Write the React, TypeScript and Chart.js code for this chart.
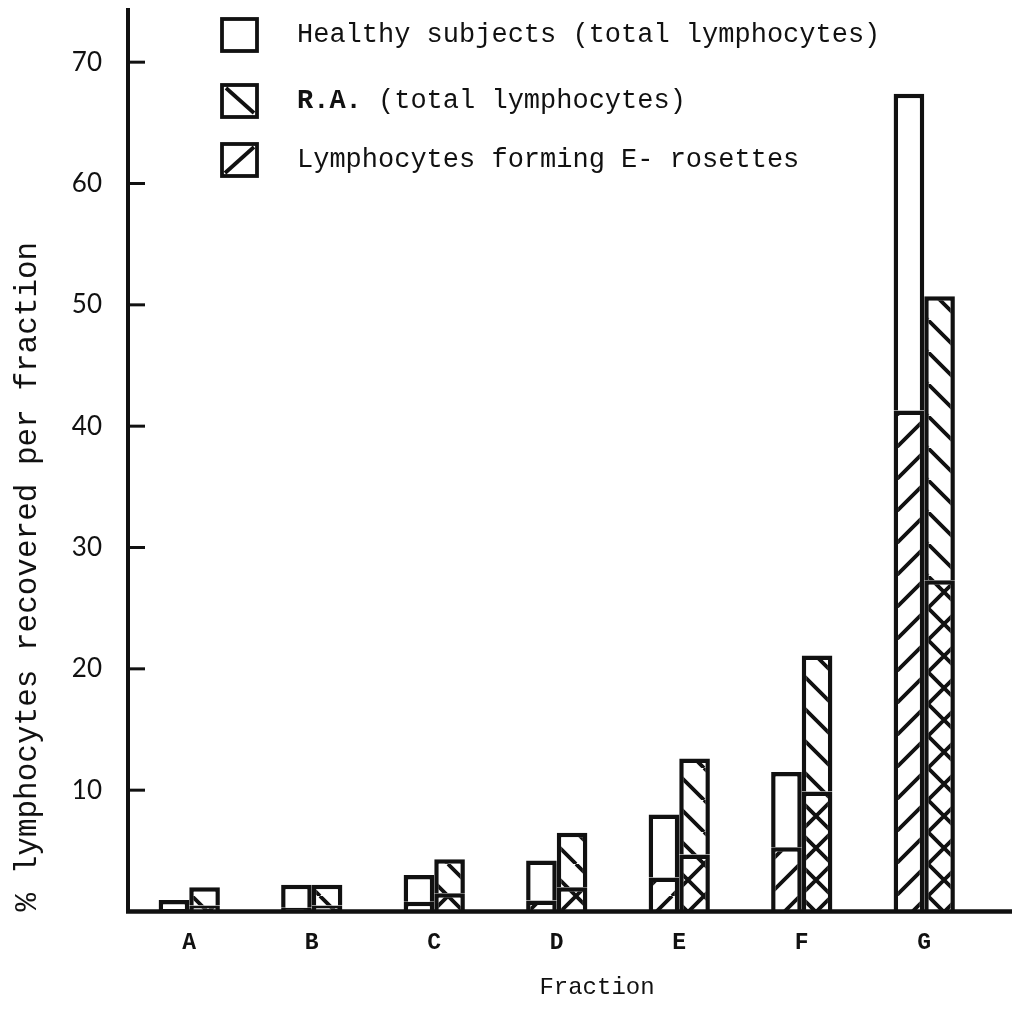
import React, { useEffect, useRef } from 'react';
import { Chart, registerables } from 'chart.js';

Chart.register(...registerables);

const categories = ['A', 'B', 'C', 'D', 'E', 'F', 'G'];
const healthyTotal = [0.95, 2.2, 3.0, 4.2, 8.0, 11.5, 67.4];
const healthyRosette = [0.2, 0.3, 0.8, 0.9, 2.8, 5.3, 41.3];
const raTotal = [2.0, 2.2, 4.3, 6.5, 12.6, 21.1, 50.7];
const raRosette = [0.5, 0.5, 1.5, 2.0, 4.7, 9.9, 27.3];
const yTickValues = [10, 20, 30, 40, 50, 60, 70];
const legendLabels = ['Healthy subjects (total lymphocytes)', 'R.A. (total lymphocytes)', 'Lymphocytes forming E- rosettes'];
const yAxisTitle = '% lymphocytes recovered per fraction';
const xAxisTitle = 'Fraction';

const INK = '#111111';
const MONO = '"Liberation Mono", "DejaVu Sans Mono", monospace';

function makePattern(target: CanvasRenderingContext2D, kind: 'fwd' | 'back' | 'cross', size = 32, lw = 3.8) {
  const c = document.createElement('canvas');
  c.width = size;
  c.height = size;
  const ctx = c.getContext('2d')!;
  ctx.fillStyle = '#ffffff';
  ctx.fillRect(0, 0, size, size);
  ctx.strokeStyle = INK;
  ctx.lineWidth = lw;
  ctx.beginPath();
  for (let k = -1; k <= 1; k++) {
    if (kind === 'fwd' || kind === 'cross') {
      ctx.moveTo(k * size, size);
      ctx.lineTo(k * size + size, 0);
    }
    if (kind === 'back' || kind === 'cross') {
      ctx.moveTo(k * size, 0);
      ctx.lineTo(k * size + size, size);
    }
  }
  ctx.stroke();
  return target.createPattern(c, 'repeat') as CanvasPattern;
}

const decorPlugin = {
  id: 'decor',
  afterDraw(chart: any) {
    const { ctx, chartArea, scales } = chart;
    const y = scales.y;
    ctx.save();
    ctx.strokeStyle = INK;
    ctx.lineCap = 'butt';
    // inside tick marks
    ctx.lineWidth = 3;
    yTickValues.forEach((v) => {
      const py = y.getPixelForValue(v);
      ctx.beginPath();
      ctx.moveTo(chartArea.left, py);
      ctx.lineTo(chartArea.left + 17, py);
      ctx.stroke();
    });
    // x axis line across full width
    ctx.lineWidth = 4.5;
    const py0 = y.getPixelForValue(0);
    ctx.beginPath();
    ctx.moveTo(chartArea.left - 2, py0);
    ctx.lineTo(chart.width, py0);
    ctx.stroke();

    // x axis title
    ctx.fillStyle = INK;
    ctx.textAlign = 'center';
    ctx.textBaseline = 'middle';
    ctx.font = `24px ${MONO}`;
    ctx.fillText(xAxisTitle, 597, 988);

    // legend
    const rows = [35, 101, 160];
    const bx = 222;
    const bw = 35;
    const bh = 32;
    ctx.lineWidth = 3.8;
    rows.forEach((cy, i) => {
      const top = cy - bh / 2;
      ctx.fillStyle = '#ffffff';
      ctx.fillRect(bx, top, bw, bh);
      ctx.strokeRect(bx, top, bw, bh);
      if (i === 1) {
        ctx.beginPath();
        ctx.moveTo(bx + 4, top + 3);
        ctx.lineTo(bx + bw - 3, top + bh - 4);
        ctx.stroke();
      } else if (i === 2) {
        ctx.beginPath();
        ctx.moveTo(bx + 3, top + bh - 3);
        ctx.lineTo(bx + bw - 3, top + 3);
        ctx.stroke();
      }
    });
    ctx.fillStyle = INK;
    ctx.textBaseline = 'middle';
    ctx.textAlign = 'left';
    const tx = 297;
    ctx.font = `27px ${MONO}`;
    ctx.fillText(legendLabels[0], tx, rows[0]);
    const raBold = legendLabels[1].slice(0, 4);
    const raRest = legendLabels[1].slice(4);
    ctx.font = `bold 27px ${MONO}`;
    ctx.fillText(raBold, tx, rows[1]);
    const w = ctx.measureText(raBold).width;
    ctx.font = `27px ${MONO}`;
    ctx.fillText(raRest, tx + w, rows[1]);
    ctx.fillText(legendLabels[2], tx, rows[2]);
    ctx.restore();
  },
};

export default function App() {
  const ref = useRef<HTMLCanvasElement | null>(null);

  useEffect(() => {
    document.body.style.margin = '0';
    const canvas = ref.current!;
    const ctx = canvas.getContext('2d')!;
    const fwd = makePattern(ctx, 'fwd');
    const back = makePattern(ctx, 'back');
    const cross = makePattern(ctx, 'cross');

    const healthyRest = healthyTotal.map((t, i) => t - healthyRosette[i]);
    const raRest = raTotal.map((t, i) => t - raRosette[i]);

    const common = {
      borderColor: INK,
      borderWidth: 4.5,
      categoryPercentage: 0.5,
      barPercentage: 1.0,
    };

    const chart = new Chart(ctx, {
      type: 'bar',
      data: {
        labels: categories,
        datasets: [
          { label: 'Healthy rosette', data: healthyRosette, stack: 'h', backgroundColor: fwd, ...common },
          { label: 'Healthy total', data: healthyRest, stack: 'h', backgroundColor: '#ffffff', ...common },
          { label: 'RA rosette', data: raRosette, stack: 'r', backgroundColor: cross, ...common },
          { label: 'RA total', data: raRest, stack: 'r', backgroundColor: back, ...common },
        ],
      },
      options: {
        responsive: false,
        animation: false,
        layout: { padding: { top: 10, right: 26.5, left: 0, bottom: 0 } },
        plugins: {
          legend: { display: false },
          tooltip: { enabled: false },
          title: { display: false },
        },
        scales: {
          x: {
            stacked: true,
            grid: { display: false, drawTicks: false },
            border: { display: false },
            ticks: {
              color: INK,
              font: { family: MONO, size: 23, weight: 'bold' },
              padding: 18,
              maxRotation: 0,
            },
            title: { display: false },
            afterFit: (s: any) => {
              s.height = 112.5;
              s.paddingLeft = 0;
              s.paddingRight = 0;
            },
          },
          y: {
            stacked: true,
            min: 0,
            max: 74.3,
            grid: { display: false, drawTicks: false },
            border: { display: true, color: INK, width: 4 },
            ticks: {
              color: INK,
              font: { family: 'Lato, "DejaVu Sans", sans-serif', size: 26 },
              padding: 26,
            },
            afterBuildTicks: (s: any) => {
              s.ticks = yTickValues.map((v) => ({ value: v }));
            },
            title: {
              display: true,
              text: yAxisTitle,
              align: 'start',
              color: INK,
              font: { family: MONO, size: 31 },
              padding: { top: 9, bottom: 0 },
            },
            afterFit: (s: any) => {
              s.width = 128;
              s.paddingTop = 0;
              s.paddingBottom = 0;
            },
          },
        },
      } as any,
      plugins: [decorPlugin],
    });
    return () => chart.destroy();
  }, []);

  return (
    <div style={{ width: 1012, height: 1024, background: '#ffffff' }}>
      <canvas ref={ref} width={1012} height={1024} style={{ display: 'block' }} />
    </div>
  );
}
